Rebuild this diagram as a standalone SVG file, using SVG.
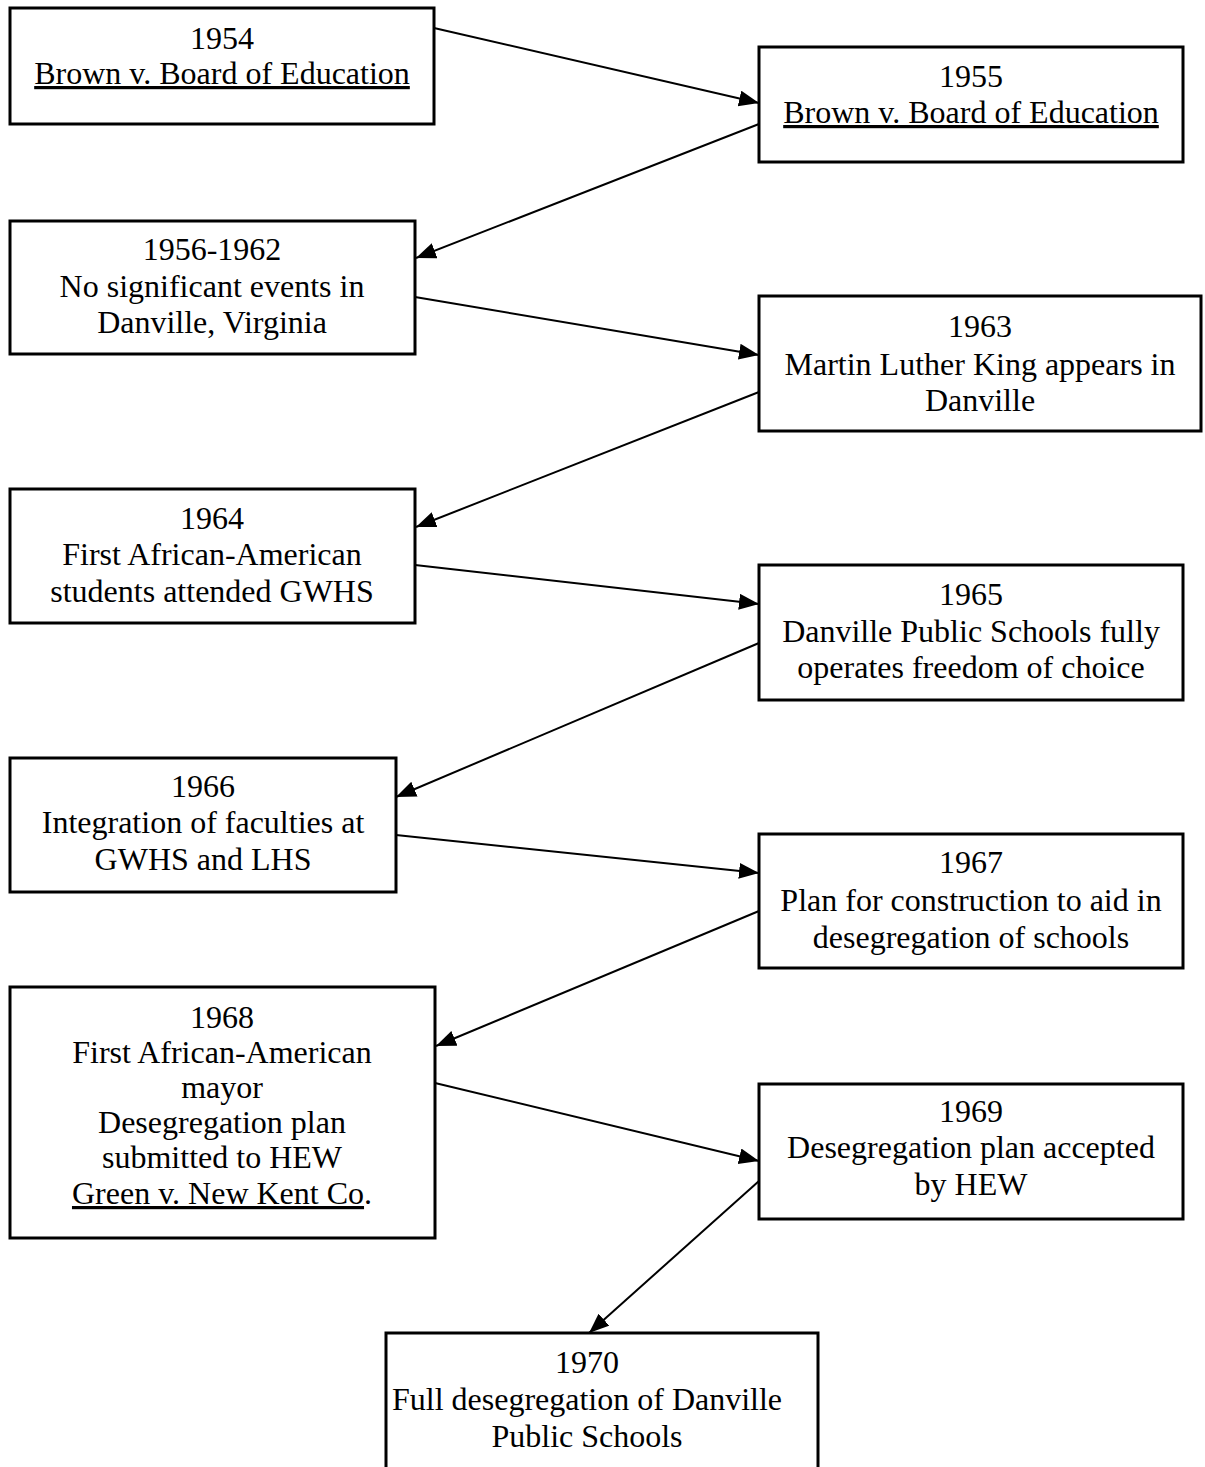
<svg xmlns="http://www.w3.org/2000/svg" width="1205" height="1467" viewBox="0 0 1205 1467">
<style>
.box{fill:#fff;stroke:#000;stroke-width:3}
.t{font-family:"Liberation Serif","Times New Roman",serif;font-size:32px;fill:#000;text-anchor:middle}
.u{text-decoration:underline}
.c{stroke:#000;stroke-width:2;fill:none;marker-end:url(#ah)}
</style>
<defs>
<marker id="ah" markerUnits="userSpaceOnUse" markerWidth="22" markerHeight="18" refX="20" refY="8" orient="auto">
<path d="M0,0 L20,8 L0,16 z" fill="#000"/>
</marker>
</defs>
<rect width="1205" height="1467" fill="#fff"/>
<g id="connectors">
<line class="c" x1="434" y1="28" x2="759" y2="103"/>
<line class="c" x1="759" y1="124" x2="416" y2="258"/>
<line class="c" x1="415" y1="297" x2="759" y2="355"/>
<line class="c" x1="759" y1="392" x2="416" y2="527"/>
<line class="c" x1="415" y1="565" x2="759" y2="604"/>
<line class="c" x1="759" y1="643" x2="396" y2="797"/>
<line class="c" x1="396" y1="835" x2="759" y2="873"/>
<line class="c" x1="759" y1="911" x2="436" y2="1046"/>
<line class="c" x1="435" y1="1083" x2="759" y2="1161"/>
<line class="c" x1="759" y1="1181" x2="589" y2="1333"/>
</g>
<g id="n1954">
<rect class="box" x="10" y="8" width="424" height="116"/>
<text class="t" x="222" y="49">1954</text>
<text class="t" x="222" y="84"><tspan class="u">Brown v. Board of Education</tspan></text>
</g>
<g id="n1955">
<rect class="box" x="759" y="47" width="424" height="115"/>
<text class="t" x="971" y="87">1955</text>
<text class="t" x="971" y="123"><tspan class="u">Brown v. Board of Education</tspan></text>
</g>
<g id="n1956">
<rect class="box" x="10" y="221" width="405" height="133"/>
<text class="t" x="212" y="260">1956-1962</text>
<text class="t" x="212" y="297">No significant events in</text>
<text class="t" x="212" y="333">Danville, Virginia</text>
</g>
<g id="n1963">
<rect class="box" x="759" y="296" width="442" height="135"/>
<text class="t" x="980" y="337">1963</text>
<text class="t" x="980" y="375">Martin Luther King appears in</text>
<text class="t" x="980" y="411">Danville</text>
</g>
<g id="n1964">
<rect class="box" x="10" y="489" width="405" height="134"/>
<text class="t" x="212" y="529">1964</text>
<text class="t" x="212" y="565">First African-American</text>
<text class="t" x="212" y="602">students attended GWHS</text>
</g>
<g id="n1965">
<rect class="box" x="759" y="565" width="424" height="135"/>
<text class="t" x="971" y="605">1965</text>
<text class="t" x="971" y="642">Danville Public Schools fully</text>
<text class="t" x="971" y="678">operates freedom of choice</text>
</g>
<g id="n1966">
<rect class="box" x="10" y="758" width="386" height="134"/>
<text class="t" x="203" y="797">1966</text>
<text class="t" x="203" y="833">Integration of faculties at</text>
<text class="t" x="203" y="870">GWHS and LHS</text>
</g>
<g id="n1967">
<rect class="box" x="759" y="834" width="424" height="134"/>
<text class="t" x="971" y="873">1967</text>
<text class="t" x="971" y="911">Plan for construction to aid in</text>
<text class="t" x="971" y="948">desegregation of schools</text>
</g>
<g id="n1968">
<rect class="box" x="10" y="987" width="425" height="251"/>
<text class="t" x="222" y="1028">1968</text>
<text class="t" x="222" y="1063">First African-American</text>
<text class="t" x="222" y="1098">mayor</text>
<text class="t" x="222" y="1133">Desegregation plan</text>
<text class="t" x="222" y="1168">submitted to HEW</text>
<text class="t" x="222" y="1204"><tspan class="u">Green v. New Kent Co</tspan>.</text>
</g>
<g id="n1969">
<rect class="box" x="759" y="1084" width="424" height="135"/>
<text class="t" x="971" y="1122">1969</text>
<text class="t" x="971" y="1158">Desegregation plan accepted</text>
<text class="t" x="971" y="1195">by HEW</text>
</g>
<g id="n1970">
<rect class="box" x="386" y="1333" width="432" height="160"/>
<text class="t" x="587" y="1373">1970</text>
<text class="t" x="587" y="1410">Full desegregation of Danville</text>
<text class="t" x="587" y="1447">Public Schools</text>
</g>
</svg>
